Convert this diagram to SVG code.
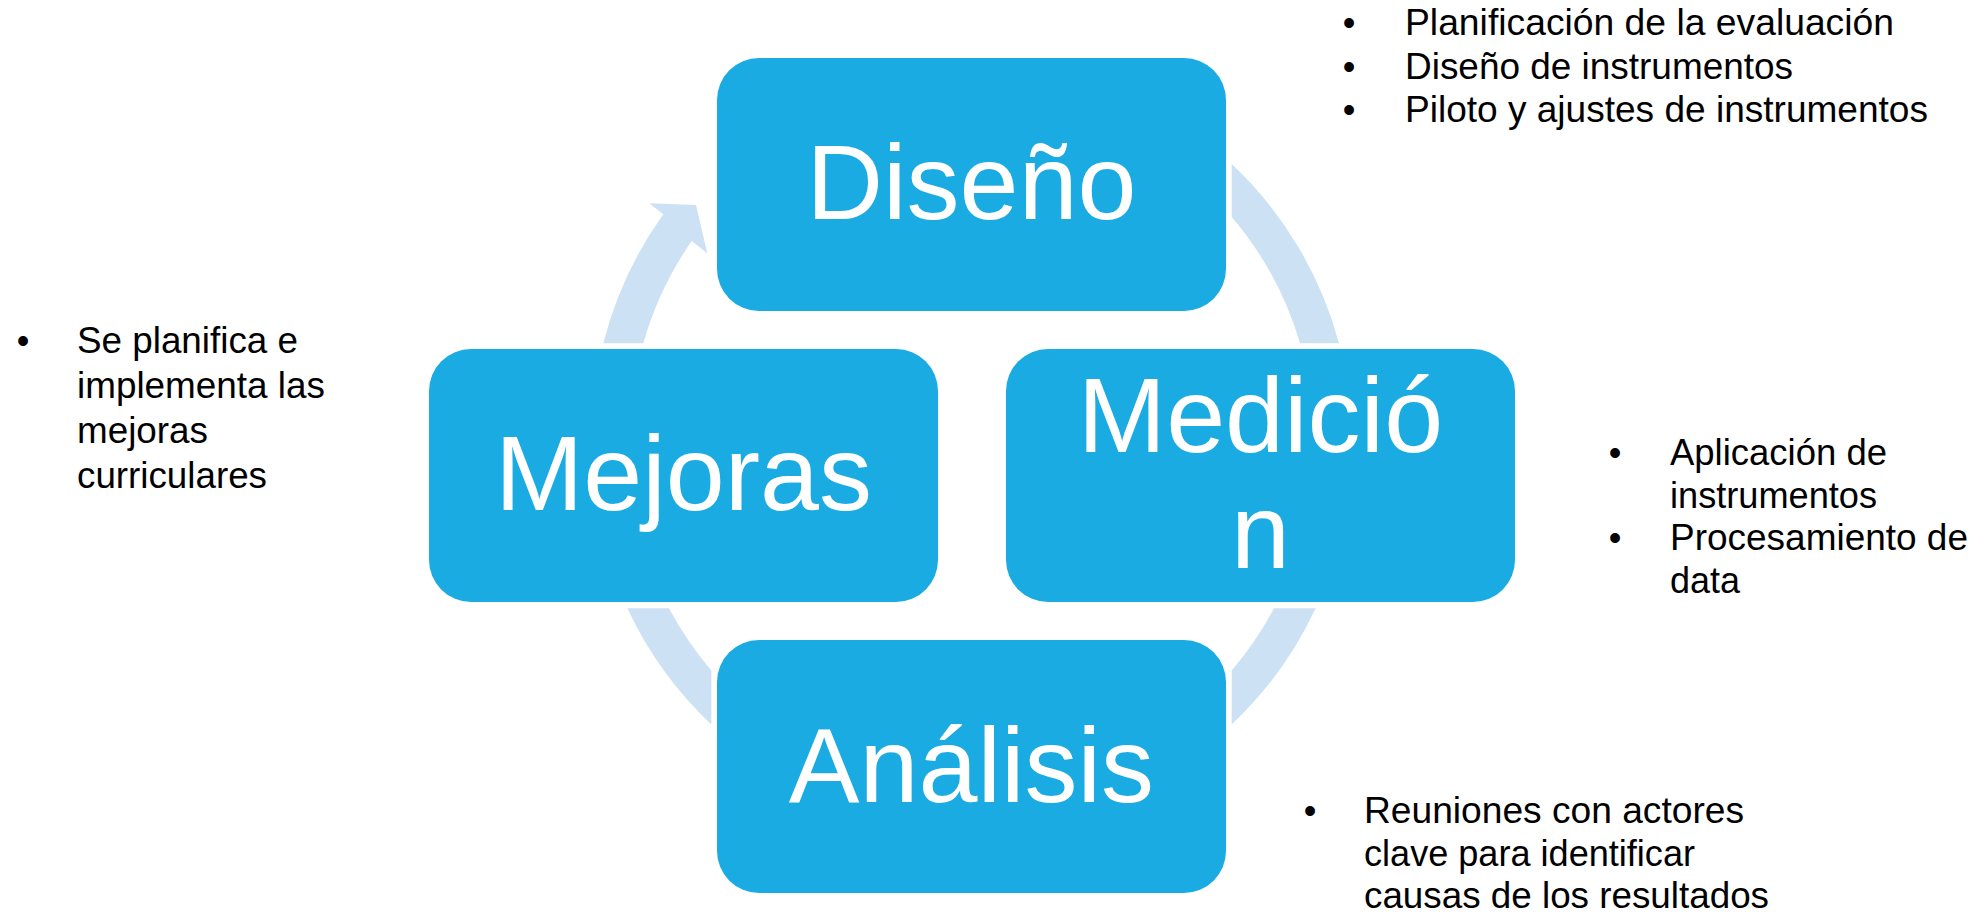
<svg xmlns="http://www.w3.org/2000/svg" width="1984" height="919" viewBox="0 0 1984 919">
<style>
.box{fill:#1BABE3;}
.big{font-family:"Liberation Sans",Arial,sans-serif;font-size:106px;fill:#FFFFFF;text-anchor:middle;}
.ring{fill:#CCE2F4;}
.note{font-family:"Liberation Sans",Arial,sans-serif;fill:#000000;}
.bul{font-family:"Liberation Sans",Arial,sans-serif;fill:#000000;text-anchor:middle;}
</style>
<rect x="0" y="0" width="1984" height="919" fill="#FFFFFF"/>
<g id="connectors">
<path class="ring" d="M 603.3,343.3 A 381.5 381.5 0 0 1 663.3,214.3 L 649.3,203.3 L 696,205 L 707.3,253.3 L 691.7,241 A 344 344 0 0 0 643.3,343.3 Z"/>
<path class="ring" d="M 1231.7,164 A 381.5 381.5 0 0 1 1339,343.3 L 1300,343.3 A 344 344 0 0 0 1231.7,217 Z"/>
<path class="ring" d="M 1315.7,608.3 A 381.5 381.5 0 0 1 1231.7,724.5 L 1231.7,670.5 A 344 344 0 0 0 1274,608.3 Z"/>
<path class="ring" d="M 711.3,724.5 A 381.5 381.5 0 0 1 627.3,608.3 L 669,608.3 A 344 344 0 0 0 711.3,670.5 Z"/>
</g>
<g id="node-diseno">
<rect class="box" x="717" y="58" width="509" height="253" rx="42" ry="42"/>
<text class="big" x="971.5" y="219">Diseño</text>
</g>
<g id="node-medicion">
<rect class="box" x="1006" y="349" width="509" height="253" rx="42" ry="42"/>
<text class="big" x="1260.5" y="452">Medició</text>
<text class="big" x="1260.5" y="568">n</text>
</g>
<g id="node-mejoras">
<rect class="box" x="429" y="349" width="509" height="253" rx="42" ry="42"/>
<text class="big" x="683.5" y="510">Mejoras</text>
</g>
<g id="node-analisis">
<rect class="box" x="717" y="640" width="509" height="253" rx="42" ry="42"/>
<text class="big" x="971.5" y="802">Análisis</text>
</g>
<g id="notes-diseno" font-size="36">
<text class="bul" x="1349" y="35">•</text>
<text class="bul" x="1349" y="79">•</text>
<text class="bul" x="1349" y="122">•</text>
<text class="note" x="1405" y="35" textLength="489" lengthAdjust="spacingAndGlyphs">Planificación de la evaluación</text>
<text class="note" x="1405" y="79" textLength="388" lengthAdjust="spacingAndGlyphs">Diseño de instrumentos</text>
<text class="note" x="1405" y="122" textLength="523" lengthAdjust="spacingAndGlyphs">Piloto y ajustes de instrumentos</text>
</g>
<g id="notes-medicion" font-size="36">
<text class="bul" x="1615" y="465">•</text>
<text class="bul" x="1615" y="550">•</text>
<text class="note" x="1670" y="465" textLength="217" lengthAdjust="spacingAndGlyphs">Aplicación de</text>
<text class="note" x="1670" y="508" textLength="207" lengthAdjust="spacingAndGlyphs">instrumentos</text>
<text class="note" x="1670" y="550" textLength="298" lengthAdjust="spacingAndGlyphs">Procesamiento de</text>
<text class="note" x="1670" y="593">data</text>
</g>
<g id="notes-mejoras" font-size="36">
<text class="bul" x="23" y="353">•</text>
<text class="note" x="77" y="353" textLength="221" lengthAdjust="spacingAndGlyphs">Se planifica e</text>
<text class="note" x="77" y="398" textLength="248" lengthAdjust="spacingAndGlyphs">implementa las</text>
<text class="note" x="77" y="443" textLength="131" lengthAdjust="spacingAndGlyphs">mejoras</text>
<text class="note" x="77" y="488" textLength="190" lengthAdjust="spacingAndGlyphs">curriculares</text>
</g>
<g id="notes-analisis" font-size="36">
<text class="bul" x="1310" y="823">•</text>
<text class="note" x="1364" y="823" textLength="380" lengthAdjust="spacingAndGlyphs">Reuniones con actores</text>
<text class="note" x="1364" y="866" textLength="331" lengthAdjust="spacingAndGlyphs">clave para identificar</text>
<text class="note" x="1364" y="908" textLength="405" lengthAdjust="spacingAndGlyphs">causas de los resultados</text>
</g>
</svg>
